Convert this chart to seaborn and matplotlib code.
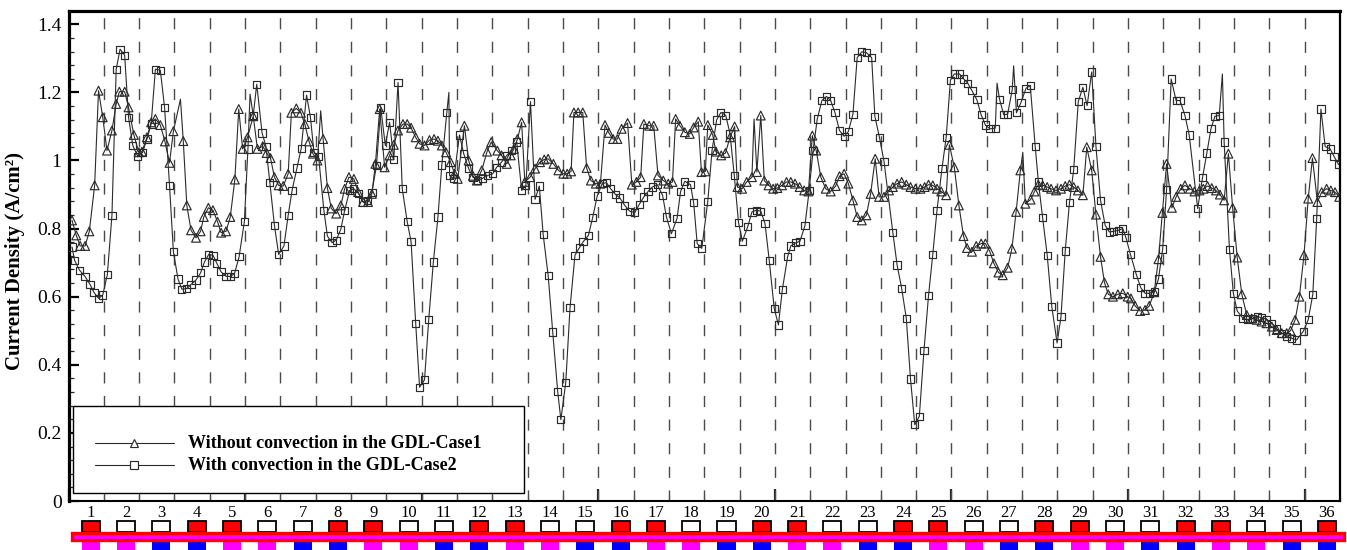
import numpy as np
import pandas as pd
import matplotlib
matplotlib.use("Agg")
import matplotlib.pyplot as plt
import seaborn as sns
from matplotlib.patches import Rectangle
from matplotlib.lines import Line2D
from matplotlib.ticker import MultipleLocator, FuncFormatter

# ---------------- data (channel position, current density A/cm2) ----------------
case1_x = [0.10, 0.22, 0.33, 0.47, 0.59, 0.74, 0.85, 0.97, 1.09, 1.23, 1.35, 1.44, 1.59, 1.70, 1.85, 1.99,
           2.08, 2.22, 2.34, 2.46, 2.60, 2.73, 2.86, 2.97, 3.25, 3.35, 3.47, 3.61, 3.74, 3.83, 3.96, 4.09,
           4.22, 4.32, 4.46, 4.58, 4.71, 4.82, 4.93, 5.07, 5.23, 5.35, 5.50, 5.61, 5.72, 5.83, 5.95, 6.08,
           6.22, 6.31, 6.45, 6.58, 6.69, 6.81, 6.92, 7.05, 7.21, 7.33, 7.44, 7.58, 7.71, 7.82, 7.94, 8.08,
           8.20, 8.34, 8.48, 8.59, 8.69, 8.81, 8.95, 9.09, 9.21, 9.33, 9.47, 9.59, 9.70, 9.83, 9.94, 10.08,
           10.22, 10.35, 10.46, 10.57, 10.69, 10.82, 10.93, 11.02, 11.21, 11.33, 11.45, 11.56, 11.70, 11.85,
           11.97, 12.14, 12.26, 12.41, 12.52, 12.61, 12.71, 12.83, 12.92, 13.07, 13.21, 13.35, 13.47, 13.58,
           13.73, 13.87, 14.01, 14.12, 14.23, 14.31, 14.43, 14.56, 14.67, 14.79, 14.93, 15.06, 15.19, 15.30,
           15.42, 15.54, 15.66, 15.83, 15.95, 16.08, 16.20, 16.29, 16.44, 16.57, 16.69, 16.84, 16.98, 17.10,
           17.19, 17.31, 17.45, 17.59, 17.70, 17.83, 17.92, 18.03, 18.10, 18.24, 18.33, 18.48, 18.60, 18.73,
           18.86, 18.94, 19.07, 19.20, 19.35, 19.49, 19.60, 19.70, 19.82, 19.95, 20.07, 20.20, 20.33, 20.45,
           20.57, 20.70, 20.83, 20.95, 21.06, 21.17, 21.30, 21.44, 21.58, 21.72, 21.83, 21.96, 22.08, 22.21,
           22.33, 22.46, 22.59, 22.71, 22.84, 22.95, 23.09, 23.23, 23.34, 23.46, 23.59, 23.72, 23.84, 23.98,
           24.12, 24.24, 24.35, 24.47, 24.59, 24.71, 24.85, 24.94, 25.08, 25.21, 25.34, 25.44, 25.58, 25.70,
           25.84, 25.96, 26.08, 26.20, 26.33, 26.45, 26.59, 26.71, 26.83, 26.95, 27.09, 27.24, 27.35, 27.46,
           27.58, 27.71, 27.82, 27.96, 28.10, 28.22, 28.34, 28.46, 28.58, 28.72, 28.83, 28.97, 29.09, 29.22,
           29.33, 29.44, 29.57, 29.71, 29.85, 29.99, 30.08, 30.20, 30.34, 30.48, 30.60, 30.74, 30.86, 30.97,
           31.09, 31.24, 31.36, 31.49, 31.61, 31.75, 31.88, 32.02, 32.13, 32.25, 32.37, 32.49, 32.60, 32.72,
           32.84, 32.96, 33.09, 33.22, 33.36, 33.50, 33.64, 33.78, 33.92, 34.07, 34.21, 34.35, 34.49, 34.60,
           34.73, 34.85, 34.98, 35.10, 35.22, 35.36, 35.48, 35.62, 35.74, 35.86, 35.98]
case1_y = [0.824, 0.780, 0.749, 0.749, 0.792, 0.927, 1.205, 1.127, 1.029, 1.088, 1.166, 1.202, 1.202, 1.156, 1.075, 1.024,
           1.026, 1.068, 1.112, 1.122, 1.104, 1.056, 0.993, 1.086, 1.057, 0.868, 0.795, 0.773, 0.792, 0.834, 0.861, 0.854,
           0.820, 0.788, 0.792, 0.834, 0.944, 1.151, 1.034, 1.068, 1.130, 1.034, 1.042, 1.022, 1.007, 0.951, 0.927, 0.925,
           0.961, 1.140, 1.153, 1.140, 1.107, 1.056, 1.020, 1.000, 1.063, 0.919, 0.859, 0.844, 0.868, 0.917, 0.951, 0.946,
           0.907, 0.878, 0.878, 0.902, 0.990, 1.151, 0.980, 1.015, 1.046, 1.088, 1.107, 1.107, 1.096, 1.068, 1.049, 1.044,
           1.060, 1.063, 1.058, 1.044, 1.024, 0.995, 0.961, 0.946, 1.102, 1.000, 0.955, 0.941, 0.971, 1.026,
           1.054, 1.029, 1.015, 0.990, 1.015, 1.034, 1.063, 1.112, 0.937, 0.951, 0.976, 0.995, 1.003, 1.005,
           0.990, 0.971, 0.961, 0.961, 0.968, 1.141, 1.141, 1.141, 0.978, 0.941, 0.932, 0.932, 1.104, 1.081,
           1.063, 1.063, 1.093, 1.110, 0.929, 0.937, 0.951, 1.107, 1.102, 1.102, 0.956, 0.941, 0.932, 0.937,
           1.122, 1.102, 1.083, 1.078, 1.097, 1.114, 0.966, 0.968, 1.104, 1.075, 1.026, 1.015, 1.022, 1.068,
           1.100, 0.922, 0.917, 0.937, 0.951, 0.966, 1.132, 0.941, 0.927, 0.917, 0.919, 0.927, 0.937, 0.937,
           0.932, 0.922, 0.912, 0.909, 1.073, 1.029, 0.951, 0.917, 0.909, 0.925, 0.954, 0.961, 0.932, 0.883,
           0.834, 0.824, 0.839, 0.902, 1.005, 0.893, 0.893, 0.912, 0.922, 0.932, 0.937, 0.929, 0.922, 0.917,
           0.917, 0.922, 0.929, 0.927, 0.917, 0.909, 0.898, 1.046, 0.980, 0.868, 0.778, 0.743, 0.732, 0.749,
           0.756, 0.756, 0.734, 0.698, 0.671, 0.663, 0.685, 0.741, 0.849, 0.971, 0.873, 0.885, 0.909, 0.929,
           0.927, 0.922, 0.917, 0.912, 0.917, 0.925, 0.929, 0.922, 0.912, 0.898, 1.039, 0.971, 0.841, 0.717,
           0.642, 0.607, 0.600, 0.607, 0.610, 0.600, 0.595, 0.573, 0.558, 0.561, 0.573, 0.613, 0.710, 0.846,
           0.990, 0.861, 0.893, 0.917, 0.927, 0.917, 0.909, 0.912, 0.917, 0.925, 0.919, 0.912, 0.900, 0.883,
           1.020, 0.861, 0.715, 0.607, 0.546, 0.536, 0.532, 0.527, 0.522, 0.512, 0.502, 0.493, 0.493, 0.500,
           0.532, 0.600, 0.722, 0.888, 1.007, 0.878, 0.907, 0.917, 0.912, 0.907, 0.893]
case1_spike_x = [3.17, 7.14, 19.41, 27.02]
case1_spike_y = [1.180, 1.146, 1.122, 1.024]

case2_x = [0.10, 0.17, 0.31, 0.47, 0.61, 0.72, 0.85, 0.97, 1.10, 1.23, 1.35, 1.46, 1.59, 1.70, 1.82, 1.96,
           2.10, 2.22, 2.34, 2.46, 2.60, 2.72, 2.86, 2.97, 3.10, 3.21, 3.35, 3.47, 3.61, 3.74, 3.85, 3.97,
           4.09, 4.20, 4.32, 4.46, 4.58, 4.70, 4.83, 4.98, 5.08, 5.23, 5.33, 5.48, 5.59, 5.70, 5.83, 5.95,
           6.10, 6.22, 6.33, 6.47, 6.59, 6.74, 6.85, 6.95, 7.08, 7.23, 7.33, 7.46, 7.58, 7.71, 7.82, 7.96,
           8.08, 8.22, 8.34, 8.46, 8.59, 8.72, 8.84, 8.97, 9.09, 9.21, 9.33, 9.45, 9.59, 9.70, 9.83, 9.94,
           10.08, 10.20, 10.33, 10.46, 10.57, 10.71, 10.79, 10.91, 11.07, 11.19, 11.33, 11.45, 11.59, 11.73,
           11.87, 12.01, 12.12, 12.26, 12.41, 12.55, 12.69, 12.83, 12.95, 13.08, 13.21, 13.33, 13.44, 13.58,
           13.71, 13.85, 13.94, 14.08, 14.20, 14.34, 14.46, 14.57, 14.72, 14.84, 14.97, 15.11, 15.23, 15.35,
           15.49, 15.61, 15.75, 15.89, 16.03, 16.16, 16.29, 16.41, 16.53, 16.67, 16.82, 16.93, 17.07, 17.23,
           17.33, 17.45, 17.61, 17.70, 17.80, 17.93, 18.10, 18.22, 18.35, 18.47, 18.61, 18.73, 18.85, 18.97,
           19.08, 19.23, 19.35, 19.48, 19.60, 19.72, 19.84, 19.98, 20.10, 20.21, 20.36, 20.45, 20.59, 20.71,
           20.85, 20.97, 21.08, 21.20, 21.33, 21.46, 21.58, 21.70, 21.83, 21.96, 22.08, 22.21, 22.33, 22.46,
           22.59, 22.74, 22.83, 22.96, 23.09, 23.34, 23.46, 23.59, 23.72, 23.84, 23.96, 24.09, 24.22, 24.35,
           24.47, 24.59, 24.73, 24.85, 24.97, 25.08, 25.23, 25.35, 25.46, 25.58, 25.72, 25.84, 25.96, 26.09,
           26.24, 26.36, 26.48, 26.59, 26.72, 26.84, 26.97, 27.11, 27.23, 27.37, 27.46, 27.58, 27.71, 27.84,
           27.99, 28.10, 28.22, 28.34, 28.46, 28.59, 28.72, 28.84, 28.97, 29.09, 29.22, 29.35, 29.47, 29.59,
           29.73, 29.85, 29.94, 30.07, 30.23, 30.36, 30.48, 30.60, 30.74, 30.86, 30.98, 31.09, 31.22, 31.36,
           31.47, 31.61, 31.73, 31.97, 32.11, 32.23, 32.35, 32.46, 32.58, 32.72, 32.87, 32.98, 33.09, 33.25,
           33.38, 33.53, 33.66, 33.78, 33.92, 34.07, 34.21, 34.35, 34.49, 34.63, 34.77, 34.96, 35.10, 35.23,
           35.34, 35.46, 35.58, 35.72, 35.83, 35.96]
case2_y = [0.746, 0.707, 0.678, 0.659, 0.636, 0.613, 0.595, 0.605, 0.665, 0.839, 1.268, 1.327, 1.309, 1.127, 1.044, 1.012,
           1.024, 1.063, 1.107, 1.268, 1.265, 1.156, 0.927, 0.732, 0.652, 0.622, 0.624, 0.636, 0.649, 0.670, 0.702, 0.724,
           0.722, 0.698, 0.673, 0.660, 0.659, 0.668, 0.717, 0.821, 1.034, 1.132, 1.224, 1.081, 1.042, 0.935, 0.810, 0.724,
           0.749, 0.839, 0.912, 0.978, 1.036, 1.192, 1.127, 1.024, 1.012, 0.854, 0.778, 0.759, 0.766, 0.798, 0.854, 0.912,
           0.917, 0.902, 0.878, 0.883, 0.907, 0.985, 1.156, 1.044, 1.112, 1.003, 1.229, 0.917, 0.820, 0.761, 0.522, 0.334,
           0.356, 0.534, 0.702, 0.834, 0.987, 1.140, 0.956, 0.946, 1.075, 1.020, 0.976, 0.951, 0.941, 0.948,
           0.956, 0.961, 0.980, 0.995, 1.015, 1.029, 1.054, 0.912, 0.927, 1.173, 0.886, 0.925, 0.782, 0.663,
           0.496, 0.322, 0.239, 0.349, 0.568, 0.722, 0.743, 0.761, 0.780, 0.832, 0.896, 0.932, 0.935, 0.917,
           0.900, 0.890, 0.868, 0.851, 0.847, 0.871, 0.893, 0.909, 0.922, 0.929, 0.898, 0.834, 0.785, 0.830,
           0.909, 0.939, 0.929, 0.876, 0.756, 0.742, 0.880, 1.029, 1.119, 1.141, 1.132, 1.078, 0.956, 0.818,
           0.763, 0.805, 0.849, 0.854, 0.851, 0.815, 0.707, 0.566, 0.517, 0.620, 0.717, 0.749, 0.758, 0.763,
           0.808, 0.912, 1.029, 1.122, 1.176, 1.188, 1.176, 1.141, 1.088, 1.071, 1.085, 1.136, 1.302, 1.319,
           1.317, 1.302, 1.130, 1.068, 0.997, 0.788, 0.693, 0.624, 0.537, 0.358, 0.224, 0.249, 0.441, 0.603,
           0.724, 0.854, 0.976, 1.068, 1.236, 1.254, 1.254, 1.239, 1.227, 1.205, 1.178, 1.134, 1.104, 1.093,
           1.095, 1.180, 1.134, 1.136, 1.208, 1.140, 1.171, 1.212, 1.220, 1.042, 0.937, 0.832, 0.722, 0.571,
           0.464, 0.541, 0.734, 0.876, 0.973, 1.173, 1.215, 1.161, 1.260, 1.042, 0.883, 0.810, 0.790, 0.792,
           0.795, 0.800, 0.773, 0.723, 0.666, 0.626, 0.610, 0.610, 0.615, 0.652, 0.740, 0.915, 1.239, 1.176,
           1.176, 1.132, 1.075, 0.859, 0.951, 1.022, 1.095, 1.130, 1.132, 1.054, 0.739, 0.610, 0.558, 0.537,
           0.532, 0.537, 0.541, 0.539, 0.534, 0.522, 0.505, 0.493, 0.483, 0.478, 0.473, 0.498, 0.532, 0.607,
           0.829, 1.151, 1.041, 1.034, 1.012, 0.988]
case2_spike_x = [5.14, 10.77, 26.29, 26.76, 32.67]
case2_spike_y = [1.195, 1.200, 1.227, 1.278, 1.254]

series_names = ["Without convection in the GDL-Case1", "With convection in the GDL-Case2"]
channel_labels = [str(i) for i in range(1, 37)]
top_colors = ["red", "white", "white", "red", "red", "white", "white", "red", "red", "white", "white", "red",
              "red", "white", "white", "red", "red", "white", "white", "red", "red", "white", "white", "red",
              "red", "white", "white", "red", "red", "white", "white", "red", "red", "white", "white", "red"]
bottom_colors = ["magenta", "magenta", "blue", "blue"] * 9
y_ticks = [0, 0.2, 0.4, 0.6, 0.8, 1.0, 1.2, 1.4]

# ---------------- style ----------------
sns.set_theme(style="white")
plt.rcParams["font.family"] = ["Liberation Serif", "DejaVu Serif"]

W, H = 1347, 550
fig = plt.figure(figsize=(W / 100, H / 100), dpi=100)
ax = fig.add_axes([68.5 / W, 49 / H, 1271.5 / W, 490 / H])

LINE_C = "#2b2b2b"

def line_frame(x, y, sx, sy):
    d = pd.DataFrame({"x": list(x) + list(sx), "y": list(y) + list(sy)})
    return d.sort_values("x").reset_index(drop=True)

# vertical dashed channel separators
for c in range(1, 36):
    ax.axvline(c, color="#4a4a4a", lw=1.0, ls=(0, (8, 9)), zorder=1)

d1 = line_frame(case1_x, case1_y, case1_spike_x, case1_spike_y)
d2 = line_frame(case2_x, case2_y, case2_spike_x, case2_spike_y)
sns.lineplot(data=d1, x="x", y="y", ax=ax, sort=False, estimator=None, color=LINE_C, lw=0.8, zorder=2)
sns.lineplot(data=d2, x="x", y="y", ax=ax, sort=False, estimator=None, color=LINE_C, lw=0.8, zorder=2)
sns.scatterplot(x=case1_x, y=case1_y, ax=ax, marker="^", s=40, facecolor="none",
                edgecolor=LINE_C, linewidth=0.85, zorder=3)
sns.scatterplot(x=case2_x, y=case2_y, ax=ax, marker="s", s=27, facecolor="none",
                edgecolor=LINE_C, linewidth=0.85, zorder=3)

ax.set_xlim(0, 36)
ax.set_ylim(0, 1.439)
ax.set_xlabel("")
ax.set_ylabel("Current Density (A/cm²)", fontsize=15, fontweight="bold", color="black")
ax.yaxis.set_label_coords(-0.034, 0.49)

ax.set_yticks(y_ticks)
ax.yaxis.set_major_formatter(FuncFormatter(lambda v, p: f"{v:g}"))
ax.yaxis.set_minor_locator(MultipleLocator(0.04))
ax.xaxis.set_major_locator(MultipleLocator(5))
ax.xaxis.set_minor_locator(MultipleLocator(1))
ax.tick_params(axis="y", which="major", direction="in", length=7, width=1.6, left=True, right=False,
               labelsize=14, colors="black", pad=5)
ax.tick_params(axis="y", which="minor", direction="in", length=3.5, width=0.9, left=True, right=False)
ax.tick_params(axis="x", which="major", direction="in", length=9, width=1.6, bottom=True, top=False,
               labelbottom=False)
ax.tick_params(axis="x", which="minor", direction="in", length=4, width=0.8, bottom=True, top=False)

for side, lw in [("left", 2.3), ("top", 2.3), ("right", 1.6), ("bottom", 1.5)]:
    ax.spines[side].set_color("black")
    ax.spines[side].set_linewidth(lw)

# ---------------- legend box ----------------
def ax_x(px):
    return (px - 68.5) / 1271.5

def ax_y(py):
    return (501 - py) / 490

ax.add_patch(Rectangle((ax_x(72.5), ax_y(493)), ax_x(524) - ax_x(72.5), ax_y(406) - ax_y(493),
                       transform=ax.transAxes, fc="white", ec="black", lw=1.0, zorder=5))
for py, mk, ms in [(443, "^", 6.3), (465, "s", 5.2)]:
    ax.add_line(Line2D([ax_x(95), ax_x(174)], [ax_y(py)] * 2, transform=ax.transAxes,
                       color=LINE_C, lw=0.8, zorder=6))
    ax.add_line(Line2D([ax_x(134)], [ax_y(py)], transform=ax.transAxes, marker=mk, ms=ms,
                       mfc="white", mec=LINE_C, mew=0.85, ls="none", zorder=7))
for py, name in zip([443, 465], series_names):
    ax.text(ax_x(188), ax_y(py), name, transform=ax.transAxes, fontsize=13, fontweight="bold",
            ha="left", va="center", zorder=7, color="black")

# ---------------- channel strip below the axis ----------------
ax2 = fig.add_axes([68.5 / W, 0, 1271.5 / W, 47 / H])
ax2.set_xlim(0, 36)
ax2.set_ylim(0, 47)
ax2.axis("off")
sq_w = 0.51
for i, (lab, tc, bc) in enumerate(zip(channel_labels, top_colors, bottom_colors)):
    cx = i + 1 - 0.37
    ax2.add_patch(Rectangle((cx - sq_w / 2, 18), sq_w, 11, fc=tc, ec="black", lw=1.3, clip_on=False))
    ax2.add_patch(Rectangle((cx - sq_w / 2, 0), sq_w, 10, fc=bc, ec="none", clip_on=False))
    ax2.text(cx, 37, lab, ha="center", va="center", fontsize=12, color="black")
ax2.add_patch(Rectangle((0.1, 10.5), 36.0, 7, fc="magenta", ec="red", lw=2.4, clip_on=False))

fig.savefig("out.png", dpi=100)
